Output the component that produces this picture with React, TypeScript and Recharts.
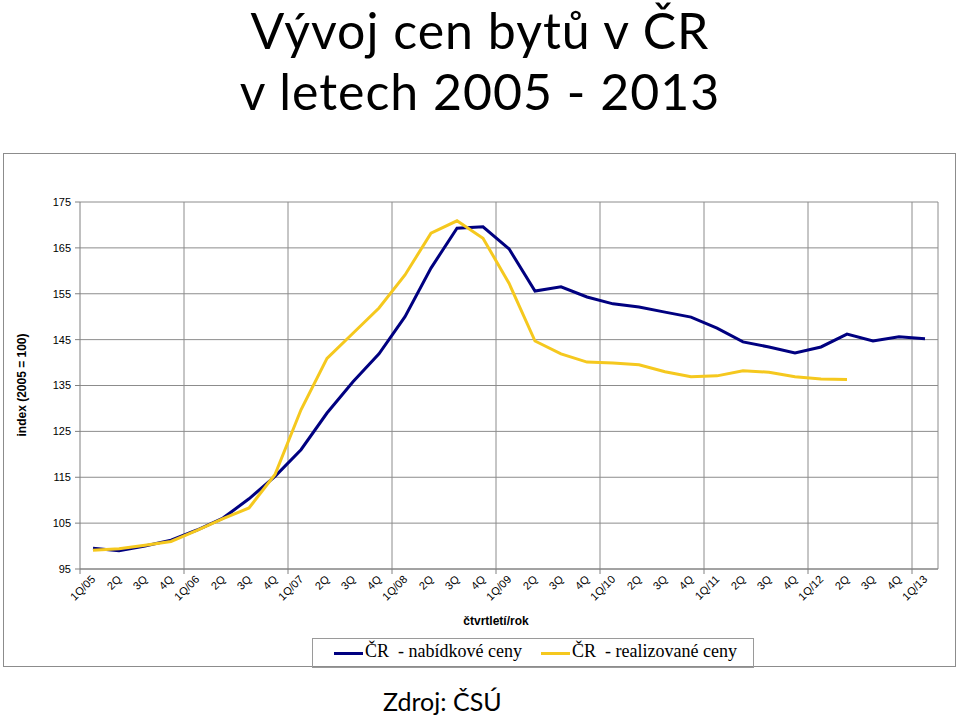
import React from "react";
import {
  LineChart,
  Line,
  XAxis,
  YAxis,
  CartesianGrid,
  ReferenceLine,
} from "recharts";

const quarters = [
  "1Q/05", "2Q", "3Q", "4Q",
  "1Q/06", "2Q", "3Q", "4Q",
  "1Q/07", "2Q", "3Q", "4Q",
  "1Q/08", "2Q", "3Q", "4Q",
  "1Q/09", "2Q", "3Q", "4Q",
  "1Q/10", "2Q", "3Q", "4Q",
  "1Q/11", "2Q", "3Q", "4Q",
  "1Q/12", "2Q", "3Q", "4Q",
  "1Q/13",
];

// ČR - nabídkové ceny
const nabidkove = [
  99.5, 99.0, 100.0, 101.3, 103.5, 106.1, 110.3, 115.2,
  121.0, 129.0, 135.8, 141.9, 150.0, 160.6, 169.3, 169.6,
  164.8, 155.6, 156.5, 154.3, 152.8, 152.1, 151.0, 149.9,
  147.5, 144.5, 143.4, 142.1, 143.4, 146.2, 144.7, 145.6,
  145.2,
];

// ČR - realizované ceny
const realizovane = [
  99.1, 99.4, 100.2, 101.0, 103.4, 106.0, 108.3, 115.6,
  129.7, 140.9, 146.4, 151.9, 159.1, 168.2, 170.9, 167.1,
  157.3, 144.7, 141.9, 140.1, 139.9, 139.5, 138.0, 136.9,
  137.1, 138.2, 137.9, 136.9, 136.4, 136.3,
];

const yTicks = [95, 105, 115, 125, 135, 145, 155, 165, 175];
const yearLines = [4, 8, 12, 16, 20, 24, 28, 32, 33];

const data = quarters.map((q, i) => ({
  x: i + 0.5,
  label: q,
  nab: nabidkove[i],
  real: i < realizovane.length ? realizovane[i] : null,
}));

const boundaries = quarters.map((_, i) => i);
const HALF_BAND = 13;

const BLUE = "#000080";
const YELLOW = "#F5C81E";
const GRID = "#8c8c8c";
const SANS = "'Liberation Sans', Arial, sans-serif";

function QuarterTick(props: any) {
  const { x, y, payload } = props;
  const idx = payload.value;
  const label = quarters[idx];
  return (
    <g>
      {idx % 4 === 0 && (
        <line x1={x} x2={x} y1={y - 7} y2={y - 2} stroke="#808080" />
      )}
      <g transform={`translate(${x + HALF_BAND + 3},${y + 4})`}>
        <text
          x={0}
          y={0}
          textAnchor="end"
          transform="rotate(-45)"
          fontSize={11}
          fontFamily={SANS}
          fill="#000"
        >
          {label}
        </text>
      </g>
    </g>
  );
}

const titleStyle: React.CSSProperties = {
  position: "absolute",
  left: 0,
  width: 960,
  textAlign: "center",
  fontFamily: "Lato, 'Open Sans', sans-serif",
  fontSize: 50,
  letterSpacing: 1,
  lineHeight: "normal",
  color: "#000",
};

export default function App() {
  return (
    <div
      style={{
        position: "absolute",
        left: 0,
        top: 0,
        width: 960,
        height: 719,
        background: "#fff",
        overflow: "hidden",
      }}
    >
      <div style={{ ...titleStyle, top: 0 }}>Vývoj cen bytů v ČR</div>
      <div style={{ ...titleStyle, top: 61 }}>v letech 2005 - 2013</div>

      <div
        style={{
          position: "absolute",
          left: 3,
          top: 153,
          width: 953,
          height: 514,
          boxSizing: "border-box",
          border: `1px solid ${GRID}`,
        }}
      />

      <div style={{ position: "absolute", left: 0, top: 0 }}>
        <LineChart
          width={960}
          height={719}
          data={data}
          margin={{ top: 202, right: 22, bottom: 100, left: 20 }}
        >
          <CartesianGrid vertical={false} stroke={GRID} />
          {yearLines.map((v) => (
            <ReferenceLine key={v} x={v} stroke={GRID} />
          ))}
          <XAxis
            type="number"
            dataKey="x"
            domain={[0, 33]}
            ticks={boundaries}
            interval={0}
            height={50}
            tickSize={5}
            tickLine={{ stroke: "none" }}
            tick={<QuarterTick />}
            stroke="#808080"
            label={{
              content: () => (
                <text
                  x={496}
                  y={625}
                  textAnchor="middle"
                  fontSize={12}
                  fontWeight="bold"
                  fontFamily={SANS}
                  fill="#000"
                >
                  čtvrtletí/rok
                </text>
              ),
            }}
          />
          <YAxis
            domain={[95, 175]}
            ticks={yTicks}
            interval={0}
            width={60}
            tickSize={5}
            tickMargin={4}
            stroke="#808080"
            tick={{ fontSize: 11, fill: "#000", fontFamily: SANS }}
            allowDataOverflow
            label={{
              content: () => (
                <text
                  x={26}
                  y={385}
                  transform="rotate(-90 26 385)"
                  textAnchor="middle"
                  fontSize={12}
                  fontWeight="bold"
                  fontFamily={SANS}
                  fill="#000"
                >
                  index (2005 = 100)
                </text>
              ),
            }}
          />
          <Line
            type="linear"
            dataKey="nab"
            stroke={BLUE}
            strokeWidth={3}
            dot={false}
            isAnimationActive={false}
          />
          <Line
            type="linear"
            dataKey="real"
            stroke={YELLOW}
            strokeWidth={3}
            dot={false}
            connectNulls={false}
            isAnimationActive={false}
          />
        </LineChart>
      </div>

      <div
        style={{
          position: "absolute",
          left: 312,
          top: 638,
          width: 442,
          height: 30,
          boxSizing: "border-box",
          border: "1px solid #9a9a9a",
          fontFamily: "'Liberation Serif', 'Times New Roman', serif",
          fontSize: 18,
          color: "#000",
          whiteSpace: "pre",
        }}
      >
        <div style={{ position: "absolute", left: 21, top: 13, width: 29, height: 3, background: BLUE }} />
        <div style={{ position: "absolute", left: 52, top: 2 }}>ČR  - nabídkové ceny</div>
        <div style={{ position: "absolute", left: 228, top: 13, width: 29, height: 3, background: YELLOW }} />
        <div style={{ position: "absolute", left: 259, top: 2 }}>ČR  - realizované ceny</div>
      </div>

      <div
        style={{
          position: "absolute",
          left: 383,
          top: 686,
          fontFamily: "Lato, 'Open Sans', sans-serif",
          fontSize: 25,
          color: "#000",
        }}
      >
        Zdroj: ČSÚ
      </div>
    </div>
  );
}
